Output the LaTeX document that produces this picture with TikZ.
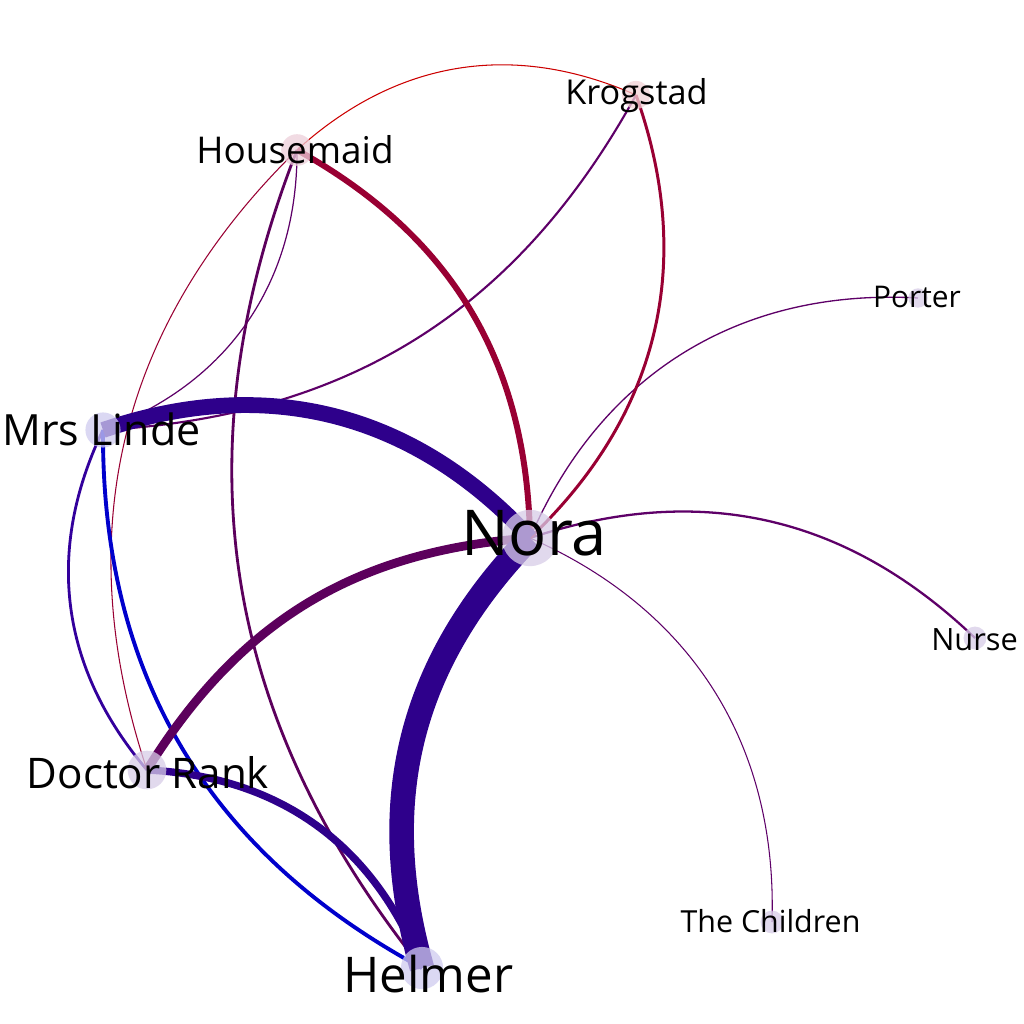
\documentclass[tikz,border=0pt]{standalone}
\usepackage{fontspec}
\setmainfont{Open Sans}
\definecolor{cIndigo}{HTML}{2E008B}
\definecolor{cPurple}{HTML}{5C005C}
\definecolor{cViolet}{HTML}{5E0068}
\definecolor{cCrimson}{HTML}{990033}
\definecolor{cRed}{HTML}{CC0000}
\definecolor{cBlue}{HTML}{0000CC}
\definecolor{cBlueViolet}{HTML}{33009C}
\definecolor{nLav}{HTML}{D8CDE8}
\definecolor{nBlueLav}{HTML}{CFCBEF}
\definecolor{nPink}{HTML}{EDD0DA}
\definecolor{nRose}{HTML}{F2D2D6}
\begin{document}
\begin{tikzpicture}[x=0.02cm,y=0.02cm,
  ed/.style={draw},
  dot/.style={circle,inner sep=0pt,fill opacity=0.75,draw=none},
  lbl/.style={anchor=base,inner sep=0pt,text=black}]
\useasboundingbox (0,0) rectangle (1024,-1024);
\fill[white] (0,0) rectangle (1024,-1024);
% node centres
\coordinate (nora) at (530,-538);
\coordinate (helmer) at (422,-968);
\coordinate (rank) at (147,-770);
\coordinate (linde) at (103,-430);
\coordinate (maid) at (297,-150);
\coordinate (krog) at (636,-95);
\coordinate (porter) at (918,-298);
\coordinate (nurse) at (975,-638);
\coordinate (kids) at (772,-922);
% thin edges
\draw[ed,line width=0.6pt,cRed] (maid) to[bend left=33] (krog);
\draw[ed,line width=0.6pt,cCrimson] (maid) to[bend right=32] (rank);
\draw[ed,line width=0.7pt,cViolet] (maid) to[bend left=35] (linde);
\draw[ed,line width=0.6pt,cViolet] (nora) to[bend left=34] (kids);
\draw[ed,line width=0.75pt,cViolet] (nora) to[bend left=35] (porter);
\draw[ed,line width=1.3pt,cViolet] (nora) to[bend left=31] (nurse);
\draw[ed,line width=1.2pt,cViolet] (krog) to[bend left=29] (linde);
\draw[ed,line width=1.6pt,cPurple] (maid) to[bend right=30] (helmer);
\draw[ed,line width=1.6pt,cBlueViolet] (linde) to[bend right=33] (rank);
\draw[ed,line width=2.2pt,cBlue] (linde) to[bend right=31] (helmer);
\draw[ed,line width=1.7pt,cCrimson] (krog) to[bend left=33] (nora);
\draw[ed,line width=3.4pt,cCrimson] (maid) to[bend left=30] (nora);
\draw[ed,line width=4.2pt,cIndigo] (rank) to[bend left=33] (helmer);
\draw[ed,line width=5pt,cPurple] (rank) to[bend left=27] (nora);
\draw[ed,line width=9pt,cIndigo] (linde) to[bend left=33] (nora);
\draw[ed,line width=14pt,cIndigo] (nora) to[bend right=30] (helmer);
% node discs
\node[dot,fill=nLav,minimum size=32] (noraD) at (nora) {};
\node[dot,fill=nBlueLav,minimum size=24] (helmerD) at (helmer) {};
\node[dot,fill=nLav,minimum size=22] (rankD) at (rank) {};
\node[dot,fill=nBlueLav,minimum size=20] (lindeD) at (linde) {};
\node[dot,fill=nPink,minimum size=18] (maidD) at (maid) {};
\node[dot,fill=nRose,minimum size=16] (krogD) at (krog) {};
\node[dot,fill=nLav,minimum size=11] (porterD) at (porter) {};
\node[dot,fill=nLav,minimum size=13] (nurseD) at (nurse) {};
\node[dot,fill=nLav,minimum size=13] (kidsD) at (kids) {};
% labels
\node[lbl,font=\fontsize{36}{40}\selectfont] (noraL) at (534,-555) {Nora};
\node[lbl,font=\fontsize{28}{32}\selectfont] (helmerL) at (428.5,-992) {Helmer};
\node[lbl,font=\fontsize{24}{28}\selectfont] (rankL) at (148,-788) {Doctor Rank};
\node[lbl,font=\fontsize{24.5}{28}\selectfont] (lindeL) at (101.5,-445) {Mrs Linde};
\node[lbl,font=\fontsize{21}{25}\selectfont] (maidL) at (295,-163) {Housemaid};
\node[lbl,font=\fontsize{19.5}{23}\selectfont] (krogL) at (636.5,-105) {Krogstad};
\node[lbl,font=\fontsize{17}{20}\selectfont] (porterL) at (917,-307) {Porter};
\node[lbl,font=\fontsize{17.5}{20}\selectfont] (nurseL) at (974.5,-650) {Nurse};
\node[lbl,font=\fontsize{17.3}{20}\selectfont] (kidsL) at (770.5,-932) {The Children};
\end{tikzpicture}
\end{document}
